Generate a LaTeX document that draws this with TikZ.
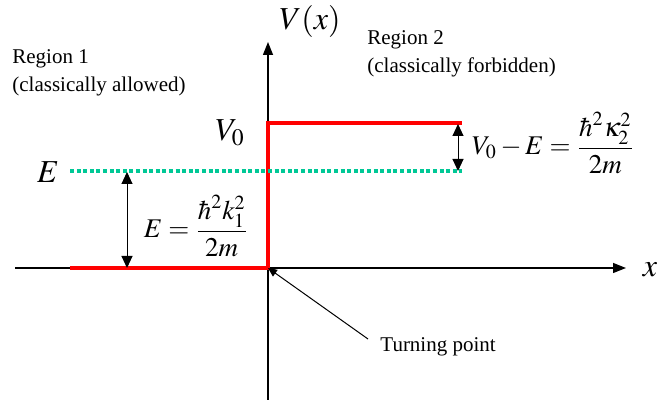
\documentclass[tikz,border=0pt]{standalone}
\usepackage{amsmath}
\usepackage{mathptmx}
\usepackage[no-math]{fontspec}
\setmainfont{Liberation Serif}
\usetikzlibrary{positioning,arrows.meta}
\definecolor{levelgreen}{RGB}{0,200,150}

\begin{document}
\begin{tikzpicture}[
  x=0.5pt, y=-0.5pt,
  axis/.style={line width=0.7pt, -{Triangle[length=6.5pt,width=5pt]}},
  wall/.style={red, line width=1.6pt},
  level/.style={levelgreen, line width=1.6pt, dash pattern=on 2pt off 1.3pt},
  gap/.style={line width=0.5pt, {Triangle[length=6pt,width=5.5pt]}-{Triangle[length=6pt,width=5.5pt]}},
  pointer/.style={line width=0.5pt, -{Triangle[length=4.5pt,width=4pt]}},
  txt/.style={font=\fontsize{10.5}{14}\selectfont, align=left, inner sep=0pt},
  formula/.style={font=\fontsize{13.5}{16}\selectfont, inner sep=0pt},
  big/.style={font=\fontsize{16}{18}\selectfont, inner sep=0pt}
]
\useasboundingbox (0,0) rectangle (658,400);

% axes
\coordinate (O)  at (268,268);
\coordinate (xl) at (15,268);
\coordinate (xr) at (626,268);
\coordinate (yb) at (268,400);
\coordinate (yt) at (268,42);
\draw[axis] (xl) -- (xr);
\draw[axis] (yb) -- (yt);
\node[big] (vx) at (310,22) {$V(x)$};
\node[big] (xlab) at (650,270) {$x$};

% potential step and energy level
\coordinate (wl) at (70,268);
\coordinate (wt) at (268,123);
\coordinate (wr) at (462,123);
\draw[wall] (wl) -- (O) -- (wt) -- (wr);
\coordinate (el) at (70,171);
\coordinate (er) at (462,171);
\draw[level] (el) -- (er);
\node[big] (elab) at (48,172) {$E$};
\node[big] (vlab) at (230,133) {$V_0$};

% energy gaps
\coordinate (g1t) at (127,172);
\coordinate (g1b) at (127,268);
\coordinate (g2t) at (458,124);
\coordinate (g2b) at (458,171);
\draw[gap] (g1t) -- (g1b);
\draw[gap] (g2t) -- (g2b);
\node[formula] (eq1) at (196,226) {$E=\dfrac{\hbar^2k_1^2}{2m}$};
\node[formula] (eq2) at (553,143) {$V_0-E=\dfrac{\hbar^2\kappa_2^2}{2m}$};

% regions
\node[txt, anchor=base west] (reg1) at (12,92) {Region 1\\(classically allowed)};
\node[txt, anchor=base west] (reg2) at (367,73) {Region 2\\(classically forbidden)};

% turning point
\node[txt, anchor=base west] (turn) at (380,352) {Turning point};
\coordinate (tp) at (368,339);
\draw[pointer] (tp) -- (O);
\end{tikzpicture}
\end{document}
